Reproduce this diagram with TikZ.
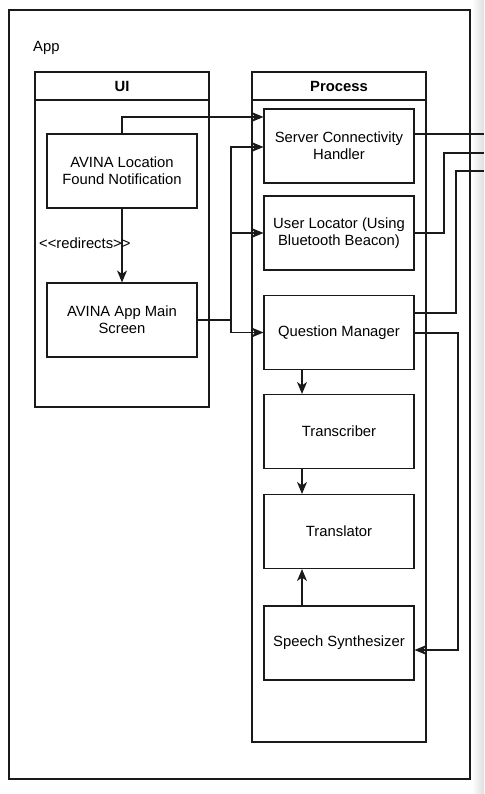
\documentclass[tikz,border=0pt]{standalone}
\usepackage{fontspec}
\setmainfont{Liberation Sans}[Ligatures=TeXOff]
\usepackage{xcolor}
\usetikzlibrary{arrows.meta,positioning}
\definecolor{edge}{HTML}{1A1A1A}
\tikzset{
  CompBox/.style={
    draw=edge, line width=1.1pt,
    minimum width=150pt, minimum height=74pt,
    align=center, inner sep=2pt
  },
  Flow/.style={
    draw=edge, line width=1.1pt,
    -{Stealth[length=12pt,width=10pt,inset=3.5pt]}
  },
  Wire/.style={draw=edge, line width=1.1pt}
}

\begin{document}
\begin{tikzpicture}[x=1pt, y=-1pt, line join=miter,
    every node/.style={font=\fontsize{14.8}{17}\selectfont}]
  \useasboundingbox (0,0) rectangle (484,794);
  % screenshot shadow at the right edge
  \shade[left color=white, right color=black!13] (472,0) rectangle (484,794);

  % outer app frame
  \draw[Wire] (9,10) rectangle (470,779);
  \node[anchor=west, inner sep=0pt] (appLbl) at (33,48) {App};

  % swimlanes
  \draw[Wire] (35,72) rectangle (209,407);
  \draw[Wire] (35,100) -- (209,100);
  \node[font=\fontsize{14.8}{17}\selectfont\bfseries] (uiLbl) at (122,86) {UI};

  \draw[Wire] (252,72) rectangle (426,742);
  \draw[Wire] (252,100) -- (426,100);
  \node[font=\fontsize{14.8}{17}\selectfont\bfseries] (procLbl) at (339,86) {Process};

  % UI components
  \node[CompBox] (notif) at (122,171) {AVINA Location\\Found Notification};
  \node[CompBox] (mainScr) at (122,320) {AVINA App Main\\Screen};

  % process components
  \node[CompBox] (server) at (339,146) {Server Connectivity\\Handler};
  \node[CompBox] (locator) at (339,233) {User Locator (Using\\Bluetooth Beacon)};
  \node[CompBox] (qMgr) at (339,332.5) {Question Manager};
  \node[CompBox] (transcr) at (339,431.5) {Transcriber};
  \node[CompBox] (transl) at (339,531.5) {Translator};
  \node[CompBox] (synth) at (339,643) {Speech Synthesizer};

  % free ends leaving the frame
  \coordinate (srvOut) at (484,134);
  \coordinate (locOut) at (484,153);
  \coordinate (qOut) at (484,171);
  \coordinate (split) at (231,320);

  % UI flows
  \draw[Flow] (notif.north) |- ([yshift=29pt]server.west);
  \draw[Flow] (notif) -- (mainScr)
    node[pos=0.47, left=-9pt, inner sep=0pt] (redir) {<<redirects>>};
  \draw[Wire] (mainScr.east) -- (split);
  \draw[Flow] (split) |- ([yshift=-1pt]server.west);
  \draw[Flow] (split) |- (locator.west);
  \draw[Flow] (split) |- (qMgr.west);

  % outgoing links
  \draw[Wire] ([yshift=12pt]server.east) -- (srvOut);
  \draw[Wire] (locator.east) -| (444,153) -- (locOut);
  \draw[Wire] ([yshift=19.5pt]qMgr.east) -| (456,171) -- (qOut);
  \draw[Flow] ([yshift=-0.5pt]qMgr.east) -| (458,643) |- ([yshift=-7pt]synth.east);

  % speech pipeline
  \draw[Flow] ([xshift=-37pt]qMgr.south) -- ([xshift=-37pt]transcr.north);
  \draw[Flow] ([xshift=-37pt]transcr.south) -- ([xshift=-37pt]transl.north);
  \draw[Flow] ([xshift=-37pt]synth.north) -- ([xshift=-37pt]transl.south);
\end{tikzpicture}
\end{document}
